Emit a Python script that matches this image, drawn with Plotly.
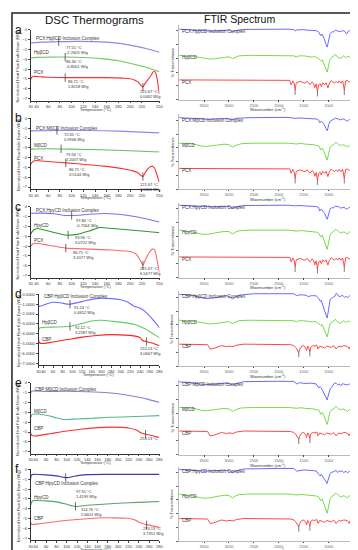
import plotly.graph_objects as go

W, H = 358, 550

# ================= DSC data (temperature °C, normalized heat flow W/g) =================
# panel a : PCX / HpβCD
a_ic_T = [30, 50, 80, 110, 140, 170, 200, 230, 250]
a_ic_hf = [-1.33, -1.25, -1.20, -1.17, -1.20, -1.30, -1.55, -1.95, -2.27]
a_cd_T = [30, 40, 60, 90, 120, 150, 180, 210, 230, 250]
a_cd_hf = [-2.87, -2.80, -2.78, -2.77, -2.82, -2.93, -3.15, -3.55, -3.85, -4.27]
a_drug_T = [30, 33, 40, 60, 90, 120, 155, 190, 205, 213, 219, 221.7, 225, 230, 236, 240, 243, 246, 248, 250]
a_drug_hf = [-5.05, -4.75, -4.75, -4.83, -4.87, -4.87, -4.87, -4.93, -5.05, -5.30, -5.70, -5.83, -5.50, -5.10,
             -4.60, -4.25, -4.30, -5.00, -5.80, -6.50]
a_mark_T = [78, 89, 89, 221.7]
a_mark_hf = [-1.20, -2.77, -4.87, -5.83]

# panel b : PCX / MβCD
b_ic_T = [30, 80, 130, 180, 220, 250]
b_ic_hf = [-1.27, -1.23, -1.23, -1.30, -1.40, -1.47]
b_cd_T = [30, 60, 100, 150, 200, 250]
b_cd_hf = [-3.13, -3.10, -3.13, -3.20, -3.30, -3.43]
b_drug_T = [30, 33, 38, 60, 90, 120, 155, 190, 205, 213, 219, 221.7, 225, 230, 235, 238, 242, 246, 250]
b_drug_hf = [-4.70, -4.45, -4.30, -4.40, -4.53, -4.68, -4.87, -5.15, -5.35, -5.55, -5.85, -5.93, -5.60, -5.15,
             -4.90, -4.87, -5.10, -5.80, -6.53]
b_mark_T = [75, 82, 90, 221.7]
b_mark_hf = [-1.24, -3.10, -4.53, -5.93]

# panel c : PCX / HpγCD
c_ic_T = [30, 50, 70, 90, 110, 130, 155, 180, 210, 230, 250]
c_ic_hf = [-0.65, -0.63, -0.70, -0.87, -0.85, -0.75, -0.67, -0.75, -1.00, -1.25, -1.53]
c_cd_T = [30, 33, 38, 42, 50, 70, 90, 110, 130, 148, 170, 200, 230, 250]
c_cd_hf = [-2.80, -2.50, -2.25, -2.20, -2.30, -2.60, -2.87, -2.80, -2.45, -2.10, -2.20, -2.35, -2.50, -2.63]
c_drug_T = [30, 33, 38, 60, 90, 130, 170, 200, 210, 217, 221.7, 226, 232, 238, 242, 246, 250]
c_drug_hf = [-4.03, -3.80, -3.70, -3.90, -4.20, -4.30, -4.40, -4.55, -4.80, -5.40, -5.93, -5.40, -4.70, -4.30,
             -4.40, -5.50, -6.70]
c_mark_T = [100, 94, 90, 221.7]
c_mark_hf = [-0.87, -2.86, -4.20, -5.93]

# panel d : CBP / HpβCD
d_ic_T = [30, 32, 45, 59, 75, 93, 110, 130, 154, 180, 200, 215, 229, 240, 250, 265, 280]
d_ic_hf = [-1.10, -1.23, -1.00, -0.80, -0.85, -1.00, -0.85, -0.60, -0.40, -0.43, -0.55, -0.80, -1.23, -1.40,
           -1.73, -2.50, -3.40]
d_cd_T = [30, 33, 45, 70, 95, 120, 140, 160, 185, 210, 229, 250, 265, 280]
d_cd_hf = [-3.60, -3.40, -3.35, -3.32, -3.25, -2.95, -2.70, -2.63, -2.75, -2.90, -3.07, -3.50, -3.95, -4.40]
d_drug_T = [30, 32, 40, 60, 90, 120, 150, 180, 210, 230, 240, 245, 253, 265, 280]
d_drug_hf = [-4.60, -4.95, -5.00, -4.85, -4.60, -4.35, -4.18, -4.10, -4.15, -4.25, -4.40, -4.70, -4.80, -4.95, -5.23]
d_mark_T = [95, 95, 253]
d_mark_hf = [-1.00, -3.25, -4.80]

# panel e : CBP / MβCD
e_ic_T = [30, 33, 60, 100, 140, 180, 210, 240, 260, 280]
e_ic_hf = [-1.05, -0.83, -0.87, -0.85, -0.90, -1.00, -1.17, -1.45, -1.70, -2.00]
e_cd_T = [30, 33, 40, 60, 80, 95, 120, 150, 180, 220, 250, 280]
e_cd_hf = [-3.55, -3.20, -3.17, -3.30, -3.55, -3.73, -3.67, -3.60, -3.50, -3.45, -3.40, -3.33]
e_drug_T = [30, 32, 40, 70, 100, 130, 160, 190, 220, 235, 245, 253, 265, 280]
e_drug_hf = [-5.10, -5.35, -5.40, -5.15, -4.90, -4.70, -4.55, -4.50, -4.60, -4.80, -5.10, -5.23, -5.35, -5.57]
e_mark_T = [253]
e_mark_hf = [-5.23]

# panel f : CBP / HpγCD
f_ic_T = [30, 31, 35, 60, 80, 95, 101, 110, 125, 140, 180, 220, 280]
f_ic_hf = [-1.00, -0.60, -0.50, -0.55, -0.65, -0.80, -0.83, -0.75, -0.60, -0.52, -0.50, -0.50, -0.50]
f_cd_T = [30, 32, 36, 60, 80, 100, 117, 140, 170, 200, 240, 280]
f_cd_hf = [-3.67, -3.30, -3.17, -3.20, -3.30, -3.55, -3.77, -3.65, -3.55, -3.45, -3.35, -3.27]
f_drug_T = [30, 32, 45, 80, 120, 160, 190, 215, 230, 240, 250, 260, 280]
f_drug_hf = [-5.40, -5.60, -5.55, -5.30, -5.10, -4.95, -4.93, -4.97, -5.10, -5.35, -5.55, -5.67, -5.90]
f_mark_T = [98, 117, 255]
f_mark_hf = [-0.82, -3.77, -5.65]

# ================= FTIR data (wavenumber cm-1, relative transmittance) =================
PCX_wn = [4000, 3600, 3400, 3200, 3000, 2800, 2400, 2000, 1870, 1780, 1752, 1720, 1690, 1673, 1650, 1600, 1574,
          1530, 1476, 1430, 1400, 1377, 1330, 1300, 1279, 1250, 1226, 1200, 1170, 1147, 1120, 1081, 1050, 1016,
          990, 950, 920, 884, 850, 819, 790, 753, 720, 687, 660, 621, 590, 556, 500, 450]
PCX_t = [0, 0, -0.5, 0, -0.3, 0, 0, 0, 0, -0.5, -5, -1, -4, -10, -3, -1.7, -1.5, -2.5, -3.3, -1.5, -3, -5, -2,
         -4, -8, -4, -11.7, -5, -4, -6.7, -3, -5, -3, -8.3, -4, -0.7, -2, -3.3, -1.5, -3.3, -1, -3.3, -1, -10, -1,
         -0.7, -2, -1.7, 0, 0]
CBP_wn = [4000, 3600, 3430, 3400, 3380, 3316, 3250, 3150, 3050, 2980, 2920, 2850, 2700, 2000, 1760, 1700, 1650,
          1620, 1600, 1580, 1540, 1500, 1460, 1443, 1420, 1390, 1377, 1360, 1320, 1280, 1240, 1213, 1180, 1120,
          1081, 1040, 990, 950, 900, 852, 800, 753, 700, 654, 610, 588, 560, 523, 490, 450]
CBP_t = [0, 0, -0.5, -3, -5, -4.5, -3, -1.5, -2.5, -2, -2.5, -1, 0, 0, -0.5, -1.5, -4, -7, -8.3, -5, -2, -1.5,
         -4, -6.5, -2, -5, -7.3, -3, -1.5, -2, -1, -5, -2, -3, -4, -2, -3, -3.3, -1.5, -5, -2, -2.7, -1.5, -1.7,
         -3, -5, -1, -6.7, -1, 0]
HPB_wn = [4000, 3850, 3700, 3600, 3500, 3400, 3300, 3200, 3100, 3000, 2930, 2880, 2800, 2600, 2400, 2200, 2000,
          1800, 1700, 1650, 1600, 1500, 1450, 1410, 1370, 1330, 1300, 1250, 1200, 1160, 1130, 1100, 1080, 1060,
          1040, 1030, 1020, 1000, 980, 950, 920, 900, 880, 860, 840, 800, 760, 720, 700, 660, 620, 580, 540, 500, 450]
HPB_t = [0, -0.3, -1, -2, -3, -3.7, -3.5, -2.7, -1.8, -1.5, -3.3, -2, -0.5, 0, 0, 0, 0, 0, -0.5, -1.5, -0.6,
         -0.5, -1, -1.5, -1.3, -1.8, -1.2, -1.8, -3.5, -5.5, -4.5, -8, -11, -14, -16.7, -17, -15, -10, -5, -2.5,
         -1.5, -1, 0.5, 1, -1, -2.5, -3, -1, -0.5, -2.5, -1, -1.5, -0.5, 0, 0]
MB_wn = [4000, 3800, 3650, 3550, 3450, 3350, 3250, 3100, 3000, 2930, 2850, 2750, 2500, 2000, 1800, 1650, 1550,
         1460, 1370, 1300, 1250, 1200, 1160, 1130, 1100, 1080, 1060, 1040, 1030, 1020, 1000, 970, 940, 900, 860,
         840, 800, 760, 720, 680, 640, 620, 590, 560, 500, 450]
MB_t = [0, -0.3, -1.5, -3, -3.3, -3, -2, -1, -1.5, -4, -2, -0.5, 0, 0, 0, -0.8, -0.3, -1, -1.2, -1.5, -2.3, -2.5,
        -7, -5, -8, -11, -14, -16.5, -17.3, -15, -9, -4, -2.5, -1.5, 1, 0.5, -1.5, -2.3, -1.5, -2, -3, -4, -2, -1,
        0, 0]
HPG_wn = [4000, 3850, 3750, 3600, 3500, 3400, 3300, 3200, 3100, 3000, 2930, 2870, 2800, 2600, 2000, 1800, 1650,
          1550, 1450, 1400, 1350, 1300, 1250, 1200, 1160, 1130, 1100, 1080, 1060, 1040, 1030, 1020, 1000, 970, 940,
          900, 860, 840, 800, 760, 720, 680, 640, 620, 590, 560, 500, 450]
HPG_t = [0, -0.5, -1.5, -3.5, -4.3, -4, -3, -2, -1.3, -1.5, -4, -2, -0.7, 0, 0, 0, -1, -0.5, -1, -1.3, -1, -1.5,
         -2, -3, -7, -5, -9, -12.5, -16, -19, -19.7, -17, -11, -5, -2.5, -1.5, 1, 0.5, -1.5, -3, -2, -2, -3.5, -4,
         -2, -1, 0, 0]
IC1_wn = [4000, 3800, 3600, 3450, 3350, 3200, 3000, 2930, 2870, 2700, 2400, 2000, 1800, 1700, 1673, 1640, 1600,
          1500, 1450, 1400, 1330, 1250, 1200, 1160, 1130, 1100, 1080, 1060, 1040, 1030, 1020, 1000, 970, 940, 900,
          860, 820, 760, 720, 680, 640, 600, 560, 500, 450]
IC1_t = [0, -0.5, -1.5, -2, -2, -1.5, -1, -2.5, -1.5, -0.3, 0, 0, 0, -0.5, -1.8, -0.8, -0.5, -0.5, -1, -1.3,
         -1.2, -1.5, -3, -6.7, -5, -8, -11, -14.5, -17.5, -18.3, -16, -10, -4.5, -3, -2.5, -1, -2, -2.5, -1.5, -2,
         -5, -2, -1, 0, 0]
IC2_wn = [4000, 3800, 3600, 3450, 3300, 3100, 2930, 2850, 2600, 2000, 1800, 1673, 1600, 1450, 1380, 1300, 1250,
          1200, 1180, 1150, 1100, 1080, 1060, 1040, 1030, 1015, 1000, 970, 940, 900, 860, 800, 760, 720, 690, 650,
          620, 580, 540, 500, 450]
IC2_t = [0, -0.3, -1, -1.7, -1.5, -0.7, -1.7, -0.7, 0, 0.3, 0.3, -0.8, -0.3, -0.8, -1, -1, -1.3, -2.5, -5, -4,
         -6, -8, -10.5, -12.5, -13.3, -11, -7, -3.5, -2.5, -2, -0.5, -1.5, -2.3, -1.3, -1.5, -3, -3.5, -1.5, -1, 0, 0]
IC3_wn = [4000, 3800, 3600, 3450, 3300, 3100, 2980, 2930, 2870, 2700, 2400, 2000, 1800, 1673, 1600, 1450, 1380,
          1300, 1250, 1200, 1180, 1150, 1100, 1080, 1060, 1040, 1030, 1015, 1000, 970, 940, 900, 860, 800, 760,
          720, 690, 650, 620, 580, 540, 500, 450]
IC3_t = [0, -0.5, -1.3, -2, -1.7, -1, -1.5, -3.3, -2, -0.3, 0, 0, 0, -0.7, -0.3, -0.8, -1, -1, -1.3, -2.5, -6,
         -4, -6.5, -8.5, -11, -13.5, -14.3, -12, -8, -3.5, -2.7, -2.5, -1, -1.5, -3, -2, -2, -4, -3.5, -2, -1,
         0.5, 0.5]
IC4_wn = [4000, 3850, 3700, 3600, 3500, 3450, 3350, 3250, 3150, 3050, 2980, 2930, 2870, 2750, 2500, 2000, 1800,
          1700, 1640, 1600, 1500, 1450, 1410, 1350, 1300, 1250, 1200, 1170, 1150, 1110, 1080, 1060, 1040, 1030,
          1020, 1000, 970, 940, 900, 870, 850, 820, 790, 760, 720, 680, 650, 620, 590, 560, 520, 480, 450]
IC4_t = [0, -0.3, -1.5, -3, -4, -4.3, -4, -3.3, -2, -1.3, -2.5, -4.7, -2.5, -0.5, 0.7, 1, 1, 0.7, -1.3, -0.5,
         -0.5, -1, -2.3, -1.3, -1.3, -1.5, -4, -7, -6, -14, -17, -20, -23, -24, -21, -13, -5, -4, -3, -1.5, 1, 0,
         -2.3, -1.5, -1, -3, -2, -3.3, -2, -0.5, -1, 0.5, 1]
IC5_wn = [4000, 3800, 3600, 3450, 3300, 3100, 2980, 2930, 2870, 2700, 2000, 1700, 1640, 1580, 1500, 1420, 1350,
          1250, 1200, 1170, 1150, 1110, 1080, 1060, 1040, 1030, 1020, 1000, 970, 950, 910, 880, 850, 820, 790,
          760, 730, 700, 650, 600, 560, 520, 480, 450]
IC5_t = [0, -0.5, -2, -2.7, -2.3, -1.2, -1.8, -3.3, -2, 0.3, 0.7, 0.5, -2, -0.7, -1.5, -1, -1.3, -2, -6, -5, -6,
         -10, -13, -15.5, -17.5, -18.3, -16, -11, -7, -6, -3, -1, -1.5, -3, -2, -4, -2, -2, -3, -2.7, -1.5, -1.5,
         0, -1]
IC6_wn = [4000, 3800, 3600, 3450, 3300, 3100, 2980, 2930, 2870, 2700, 2000, 1700, 1640, 1580, 1500, 1420, 1350,
          1250, 1200, 1170, 1150, 1110, 1080, 1060, 1040, 1030, 1020, 1000, 970, 950, 910, 880, 850, 820, 790,
          760, 730, 700, 650, 620, 580, 540, 500, 450]
IC6_t = [0, -0.3, -1.3, -1.7, -1.5, -0.7, -1.5, -3.3, -1.7, 0.5, 1, 1, -1.7, -1, -0.5, -0.8, -1, -1.5, -5, -6.7,
         -5, -8, -10.5, -12.5, -14, -14.3, -12, -8, -4, -3.3, -2, -1.7, -1, -3.3, -1.5, -2, -1.5, -3, -2, -3.3, -2,
         -1, -1, 0]
PCX_peak_wn = [1673, 1226, 687]
PCX_peak_t = [-12.5, -14, -12.5]
CBP_peak_wn = [1600, 1377]
CBP_peak_t = [-10.5, -9.5]

# stacking offsets of the spectra (complex, cyclodextrin, drug) per panel
ftir_offsets = [[71.7, 45, 20], [72.7, 46.7, 21], [73.7, 48.3, 21],
                [73, 46.7, 22.3], [74, 48, 24], [73, 48, 23]]

FTIR_X_TICKS = [3500, 3000, 2500, 2000, 1500, 1000, 500]
PCX_T_TICKS = [30, 40, 60, 80, 100, 120, 140, 160, 180, 200, 220, 250]
CBP_T_TICKS = [30, 40, 60, 80, 100, 120, 140, 160, 180, 200, 220, 240, 260, 280]

panels = [
    dict(letter='a', drugname='PCX', cdname='HpβCD', icname='PCX:HpβCD Inclusion Complex', trange=[30, 250],
         tt=PCX_T_TICKS, ic=(a_ic_T, a_ic_hf), cd=(a_cd_T, a_cd_hf), drug=(a_drug_T, a_drug_hf),
         mk=(a_mark_T, a_mark_hf), cols=['#8b8bdc', '#6cc95c', '#ff3030'],
         notes=[('77.51 °C<br>-2.2603 W/g', 87, -2.0), ('86.36 °C<br>-0.8001 W/g', 87, -3.5),
                ('86.71 °C<br>1.8218 W/g', 90, -5.5), ('221.67 °C<br>0.0462 W/g', 213, -6.5)],
         lab=[(35, -0.9), (32, -2.3), (32, -4.3)],
         ftir=[(IC1_wn, IC1_t), (HPB_wn, HPB_t), (PCX_wn, PCX_t)], pk=(PCX_peak_wn, PCX_peak_t)),
    dict(letter='b', drugname='PCX', cdname='MβCD', icname='PCX:MβCD Inclusion Complex', trange=[30, 250],
         tt=PCX_T_TICKS, ic=(b_ic_T, b_ic_hf), cd=(b_cd_T, b_cd_hf), drug=(b_drug_T, b_drug_hf),
         mk=(b_mark_T, b_mark_hf), cols=['#8a8af0', '#62be62', '#ff3030'],
         notes=[('72.65 °C<br>0.9946 W/g', 84, -1.9), ('79.56 °C<br>2.2007 W/g', 87, -3.9),
                ('86.71 °C<br>3.5144 W/g', 92, -5.5), ('221.67 °C<br>6.0801 W/g', 213, -7.0)],
         lab=[(35, -1.0), (32, -2.8), (32, -4.1)],
         ftir=[(IC2_wn, IC2_t), (MB_wn, MB_t), (PCX_wn, PCX_t)], pk=(PCX_peak_wn, PCX_peak_t)),
    dict(letter='c', drugname='PCX', cdname='HpγCD', icname='PCX:HpγCD Inclusion Complex', trange=[30, 250],
         tt=PCX_T_TICKS, ic=(c_ic_T, c_ic_hf), cd=(c_cd_T, c_cd_hf), drug=(c_drug_T, c_drug_hf),
         mk=(c_mark_T, c_mark_hf), cols=['#7474ee', '#2f962f', '#ff6b6b'],
         notes=[('97.86 °C<br>-0.7564 W/g', 104, -1.6), ('93.96 °C<br>3.0722 W/g', 102, -3.4),
                ('86.71 °C<br>3.2077 W/g', 99, -4.95), ('221.67 °C<br>6.5677 W/g', 213, -6.5)],
         lab=[(35, -0.37), (33, -1.87), (32, -3.43)],
         ftir=[(IC3_wn, IC3_t), (HPG_wn, HPG_t), (PCX_wn, PCX_t)], pk=(PCX_peak_wn, PCX_peak_t)),
    dict(letter='d', drugname='CBP', cdname='HpβCD', icname='CBP:HpβCD Inclusion Complex', trange=[30, 280],
         tt=CBP_T_TICKS, ic=(d_ic_T, d_ic_hf), cd=(d_cd_T, d_cd_hf), drug=(d_drug_T, d_drug_hf),
         mk=(d_mark_T, d_mark_hf), cols=['#6b6bff', '#66c866', '#ff2020'],
         notes=[('91.24 °C<br>0.4652 W/g', 99, -1.57), ('92.12 °C<br>3.2587 W/g', 101, -3.6),
                ('253.13 °C<br>3.0667 W/g', 235, -5.8)],
         lab=[(38, -0.23), (34, -2.83), (34, -4.57)],
         ftir=[(IC4_wn, IC4_t), (HPB_wn, HPB_t), (CBP_wn, CBP_t)], pk=(CBP_peak_wn, CBP_peak_t)),
    dict(letter='e', drugname='CBP', cdname='MβCD', icname='CBP:MβCD Inclusion Complex', trange=[30, 280],
         tt=CBP_T_TICKS, ic=(e_ic_T, e_ic_hf), cd=(e_cd_T, e_cd_hf), drug=(e_drug_T, e_drug_hf),
         mk=(e_mark_T, e_mark_hf), cols=['#8282d2', '#52b893', '#ff3030'],
         notes=[('253.13 °C', 238, -5.67)],
         lab=[(35, -0.67), (33, -2.93), (33, -4.67)],
         ftir=[(IC5_wn, IC5_t), (MB_wn, MB_t), (CBP_wn, CBP_t)], pk=(CBP_peak_wn, CBP_peak_t)),
    dict(letter='f', drugname='CBP', cdname='HpγCD', icname='CBP:HpγCD Inclusion Complex', trange=[30, 280],
         tt=CBP_T_TICKS, ic=(f_ic_T, f_ic_hf), cd=(f_cd_T, f_cd_hf), drug=(f_drug_T, f_drug_hf),
         mk=(f_mark_T, f_mark_hf), cols=['#3a3ab4', '#5a9f6c', '#ff6868'],
         notes=[('97.91 °C<br>1.4199 W/g', 114, -2.53), ('114.76 °C<br>2.6601 W/g', 123, -4.38),
                ('253.13 °C<br>3.7351 W/g', 244, -6.25)],
         lab=[(35, -1.43), (33, -2.83), (33, -5.0)],
         ftir=[(IC6_wn, IC6_t), (HPG_wn, HPG_t), (CBP_wn, CBP_t)], pk=(CBP_peak_wn, CBP_peak_t)),
]

FTIR_COLS = ['#6a6aff', '#74dc4c', '#ff4848']

# ---------------- layout geometry (pixels) ----------------
DSC_TOP = [19, 108, 197, 285, 374, 461]
DSC_HGT = 71
DSC_LEFT = [21, 21, 21, 29, 21, 21]
DSC_RIGHT = 152
FT_BOTTOM = [89, 179, 268, 357, 446, 533]
FT_HGT = 75
FT_LEFT, FT_RIGHT = 172, 352


def xp(px):
    return px / W


def yp(py):
    return 1 - py / H


fig = go.Figure()
layout = {}
annotations = []
TXT = '#333333'
FONT = 'Arial, Liberation Sans, sans-serif'
TICKF = dict(size=4, color=TXT, family=FONT)


def paper_text(text, px, py, size, angle=0, color=TXT, xanchor='center'):
    annotations.append(dict(text=text, x=xp(px), y=yp(py), xref='paper', yref='paper', showarrow=False,
                            xanchor=xanchor, yanchor='middle', textangle=angle,
                            font=dict(size=size, color=color, family=FONT)))


for i, p in enumerate(panels):
    nd, nf = 2 * i + 1, 2 * i + 2
    sd = '' if nd == 1 else str(nd)
    top, bot = DSC_TOP[i], DSC_TOP[i] + DSC_HGT
    # --- DSC axes
    layout['xaxis' + sd] = dict(domain=[xp(DSC_LEFT[i]), xp(DSC_RIGHT)], anchor='y' + sd, range=p['trange'],
                                tickvals=p['tt'], tickfont=TICKF, tickangle=0, ticks='outside', ticklen=2,
                                tickwidth=0.5, showline=True, linecolor='#333', linewidth=0.8, showgrid=False,
                                zeroline=False)
    layout['yaxis' + sd] = dict(domain=[yp(bot), yp(top)], anchor='x' + sd, range=[-7.2, 0], dtick=1,
                                tickfont=TICKF, tickangle=0, ticks='outside', ticklen=2, tickwidth=0.5,
                                showline=True, linecolor='#333', linewidth=0.8, showgrid=False, zeroline=False,
                                tickformat='.4f' if p['letter'] == 'd' else 'd')
    for (xs, ys), col in zip([p['ic'], p['cd'], p['drug']], p['cols']):
        fig.add_trace(go.Scatter(x=xs, y=ys, mode='lines', line=dict(color=col, width=1.1, shape='spline',
                                                                     smoothing=0.6),
                                 xaxis='x' + sd, yaxis='y' + sd, hoverinfo='skip'))
    fig.add_trace(go.Scatter(x=p['mk'][0], y=p['mk'][1], mode='markers',
                             marker=dict(symbol='line-ns', size=6, line=dict(width=0.8, color='#444')),
                             xaxis='x' + sd, yaxis='y' + sd, hoverinfo='skip'))
    for txt, tx, ty in p['notes']:
        annotations.append(dict(text=txt, x=tx, y=ty, xref='x' + sd, yref='y' + sd, showarrow=False,
                                xanchor='left', yanchor='middle', align='left',
                                font=dict(size=4, color=TXT, family=FONT)))
    for name, (lx, ly) in zip([p['icname'], p['cdname'], p['drugname']], p['lab']):
        annotations.append(dict(text=name, x=lx, y=ly, xref='x' + sd, yref='y' + sd, showarrow=False,
                                xanchor='left', yanchor='middle', font=dict(size=4.5, color=TXT, family=FONT)))
    paper_text('Normalized Heat Flow Endo Down (W/g)', 8, top + 36, 4, angle=-90)
    paper_text('Temperature (°C)', (DSC_LEFT[i] + DSC_RIGHT) / 2, bot + 9, 4)
    paper_text(p['letter'], 3, top, 12, color='#111', xanchor='left')

    # --- FTIR axes
    sf = str(nf)
    fb = FT_BOTTOM[i]
    layout['xaxis' + sf] = dict(domain=[xp(FT_LEFT), xp(FT_RIGHT)], anchor='y' + sf, range=[4000, 450],
                                tickvals=FTIR_X_TICKS, tickfont=dict(size=4, color='#666', family=FONT),
                                tickangle=0, ticks='outside', ticklen=1.5, tickwidth=0.5, showline=True,
                                linecolor='#bbb', linewidth=0.6, showgrid=False, zeroline=False)
    layout['yaxis' + sf] = dict(domain=[yp(fb), yp(fb - FT_HGT)], anchor='x' + sf, range=[0, 76], dtick=14,
                                showticklabels=False, ticks='outside', ticklen=2, tickwidth=0.5, tickcolor='#666',
                                showline=True, linecolor='#bbb', linewidth=0.6, showgrid=False, zeroline=False)
    offs = ftir_offsets[i]
    names = [p['icname'], p['cdname'], p['drugname']]
    for k, ((wn, tv), col) in enumerate(zip(p['ftir'], FTIR_COLS)):
        fig.add_trace(go.Scatter(x=wn, y=[v + offs[k] for v in tv], mode='lines', line=dict(color=col, width=1),
                                 xaxis='x' + sf, yaxis='y' + sf, hoverinfo='skip'))
        annotations.append(dict(text=names[k], x=3990, y=offs[k] - 2.5, xref='x' + sf, yref='y' + sf,
                                showarrow=False, xanchor='left', yanchor='middle',
                                font=dict(size=4.5, color=TXT, family=FONT)))
    fig.add_trace(go.Scatter(x=p['pk'][0], y=[v + offs[2] for v in p['pk'][1]], mode='markers',
                             marker=dict(symbol='line-ns', size=4, line=dict(width=0.7, color='#444')),
                             xaxis='x' + sf, yaxis='y' + sf, hoverinfo='skip'))
    paper_text('% Transmittance', 165, fb - FT_HGT / 2, 4, angle=-90)
    paper_text('Wavenumber (cm<sup>-1</sup>)', (FT_LEFT + FT_RIGHT) / 2, fb + 10, 4)

paper_text('DSC Thermograms', 86, 9, 11.5, color='#111')
paper_text('FTIR Spectrum', 233, 8, 10.5, color='#111')

fig.update_layout(width=W, height=H, margin=dict(l=0, r=0, t=0, b=0), paper_bgcolor='white',
                  plot_bgcolor='white', showlegend=False, font=dict(family=FONT, color=TXT),
                  annotations=annotations,
                  shapes=[dict(type='rect', xref='paper', yref='paper', x0=xp(2), x1=xp(355), y0=yp(548), y1=yp(2),
                               line=dict(color='#222', width=1.5))],
                  **layout)

fig.write_html('out.html')
